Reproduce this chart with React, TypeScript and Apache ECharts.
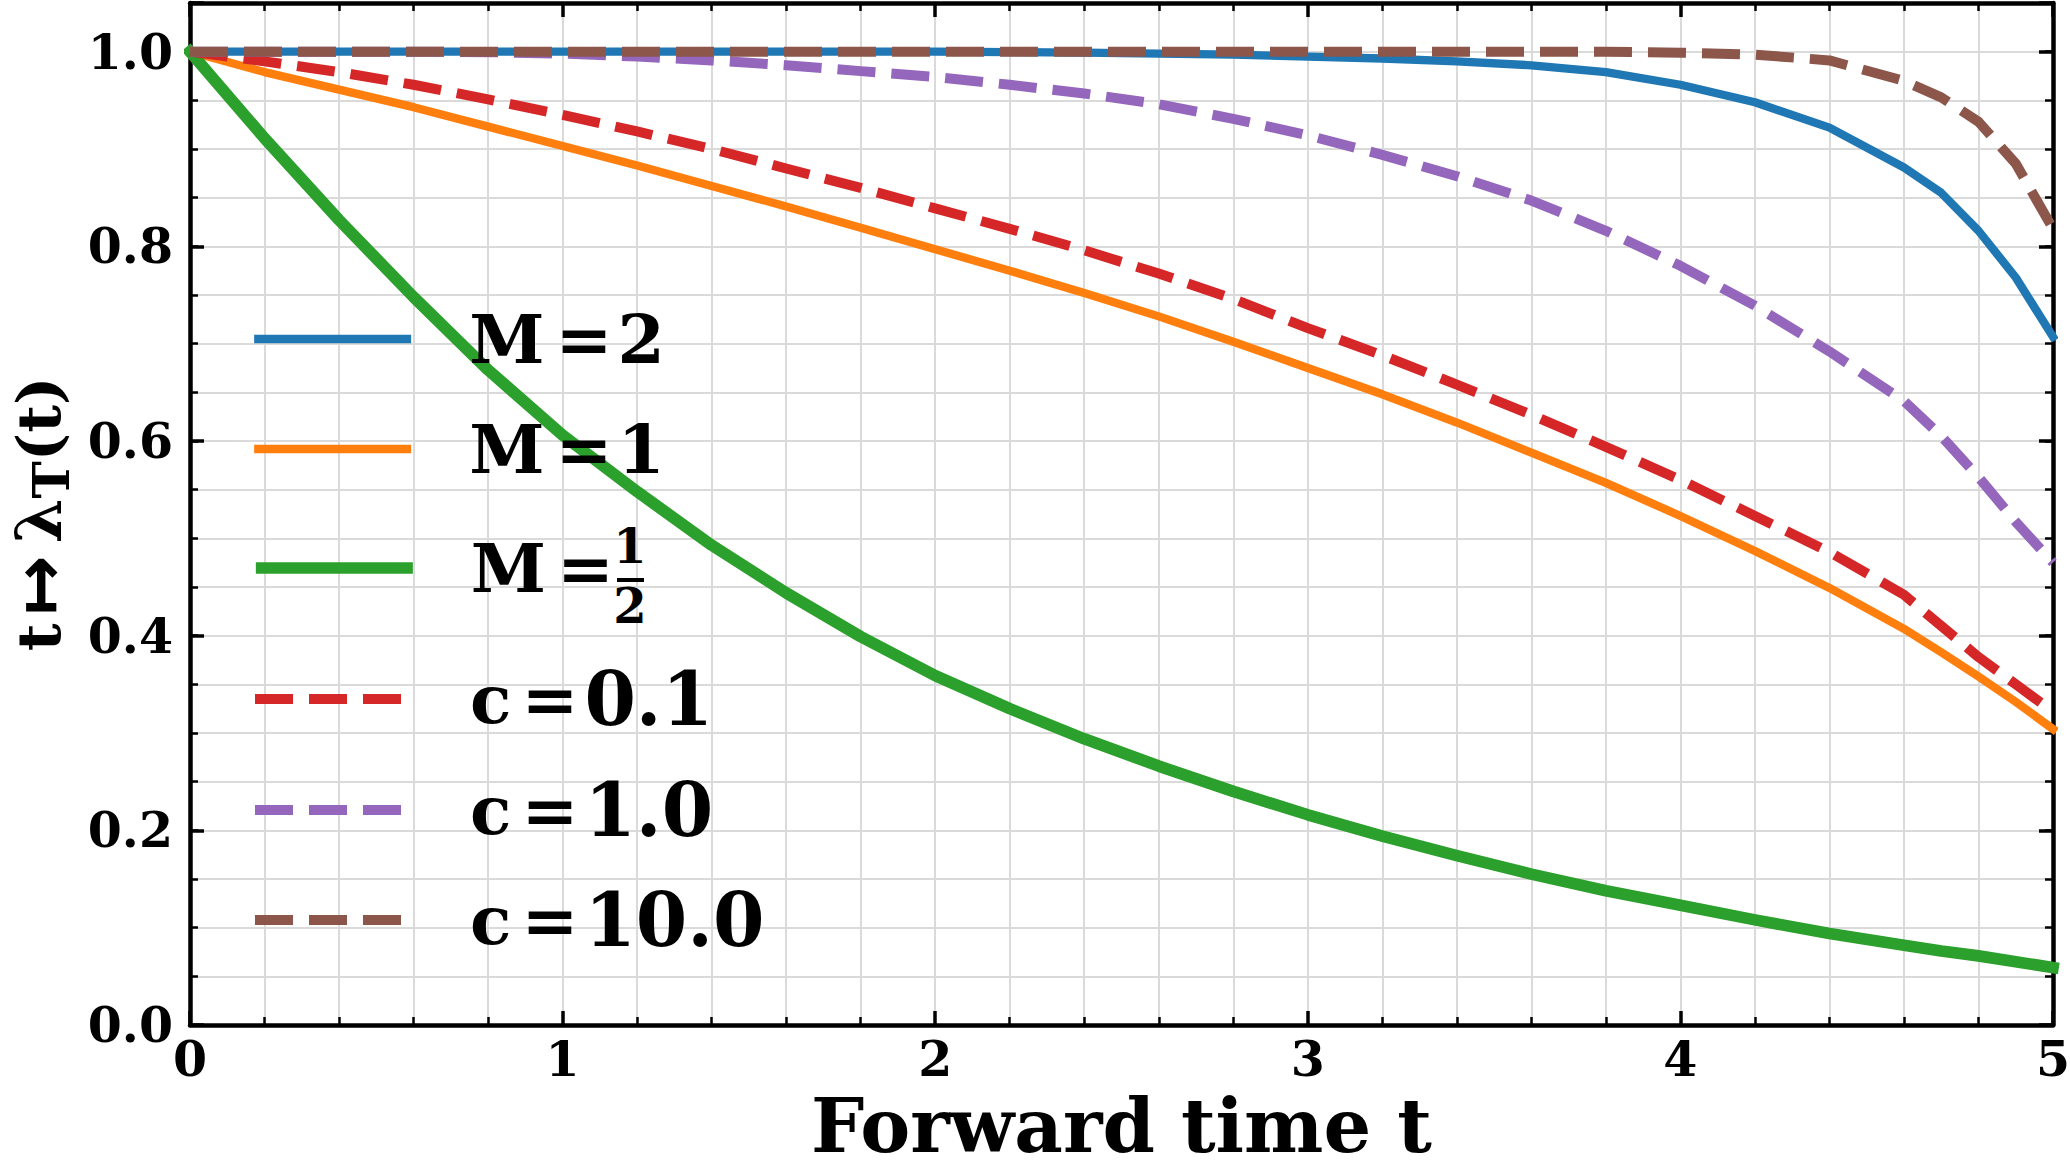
import React, { useEffect, useRef } from "react";
import * as echarts from "echarts";

// ---------- data ----------
const tValues = [0, 0.2, 0.4, 0.6, 0.8, 1.0, 1.2, 1.4, 1.6, 1.8, 2.0, 2.2, 2.4, 2.6, 2.8, 3.0, 3.2, 3.4, 3.6, 3.8, 4.0, 4.2, 4.4, 4.6, 4.7, 4.8, 4.9, 5.0];

const m2Values = [1.0, 1.0, 1.0, 1.0, 1.0, 1.0, 1.0, 1.0, 1.0, 1.0, 1.0, 0.9995, 0.999, 0.998, 0.997, 0.995, 0.993, 0.99, 0.986, 0.979, 0.966, 0.948, 0.922, 0.881, 0.855, 0.816, 0.768, 0.707];
const m1Values = [1.0, 0.979, 0.961, 0.943, 0.923, 0.903, 0.883, 0.862, 0.841, 0.819, 0.797, 0.775, 0.752, 0.728, 0.702, 0.675, 0.648, 0.619, 0.588, 0.557, 0.523, 0.487, 0.449, 0.407, 0.383, 0.358, 0.332, 0.304];
const mHalfValues = [1.0, 0.911, 0.827, 0.748, 0.673, 0.606, 0.548, 0.493, 0.444, 0.399, 0.359, 0.325, 0.294, 0.266, 0.24, 0.216, 0.194, 0.174, 0.155, 0.138, 0.123, 0.108, 0.094, 0.082, 0.076, 0.071, 0.065, 0.059];
const c01Values = [1.0, 0.99, 0.979, 0.966, 0.951, 0.935, 0.918, 0.9, 0.88, 0.86, 0.839, 0.818, 0.796, 0.772, 0.746, 0.716, 0.688, 0.658, 0.627, 0.594, 0.56, 0.523, 0.486, 0.442, 0.41, 0.378, 0.35, 0.322];
const c1Values = [1.0, 1.0, 1.0, 1.0, 0.9995, 0.998, 0.995, 0.991, 0.986, 0.98, 0.974, 0.966, 0.957, 0.946, 0.931, 0.914, 0.894, 0.872, 0.847, 0.816, 0.78, 0.739, 0.692, 0.641, 0.605, 0.563, 0.517, 0.475];
const c10Values = [1.0, 1.0, 1.0, 1.0, 1.0, 1.0, 1.0, 1.0, 1.0, 1.0, 1.0, 1.0, 1.0, 1.0, 1.0, 1.0, 1.0, 1.0, 1.0, 1.0, 0.999, 0.997, 0.991, 0.97, 0.953, 0.928, 0.885, 0.818];

const seriesNames = ["M = 2", "M = 1", "M = 1/2", "c = 0.1", "c = 1.0", "c = 10.0"];
const seriesValues = [m2Values, m1Values, mHalfValues, c01Values, c1Values, c10Values];
const seriesColors = ["#1f77b4", "#ff7f0e", "#2ca02c", "#d62728", "#9467bd", "#8c564b"];
const seriesWidths = [8.3, 8.3, 11.7, 10, 10, 10];
const seriesDashed = [false, false, false, true, true, true];

const xTickValues = [0, 1, 2, 3, 4, 5];
const yTickLabels = ["0.0", "0.2", "0.4", "0.6", "0.8", "1.0"];
const xTitle = "Forward time t";
const fractionNumerator = "1";
const fractionDenominator = "2";

// ---------- layout ----------
const W = 2070;
const H = 1163;
const FONT = "DejaVu Serif";
const GRID_COLOR = "#dadada";
const legendCenters = [345, 455, 574, 702, 813, 923];
const LEGEND_LINE_H = 80;
const DASH = [38, 16];

function buildOption() {
  const series = seriesNames.map((name, i) => ({
    name,
    type: "line",
    xAxisIndex: 0,
    yAxisIndex: 0,
    data: tValues.map((t, k) => [t, seriesValues[i][k]]),
    showSymbol: false,
    symbol: "none",
    clip: true,
    silent: true,
    emphasis: { disabled: true },
    itemStyle: { color: seriesColors[i] },
    lineStyle: {
      color: seriesColors[i],
      width: seriesWidths[i],
      type: seriesDashed[i] ? DASH : "solid",
      cap: seriesDashed[i] ? "butt" : "square",
      join: "round",
    },
    z: 2 + i * 0.01,
  }));

  const base = { fontFamily: FONT, fontWeight: "bold", lineHeight: LEGEND_LINE_H, color: "#000" };
  const richStyles = {
    m: { ...base, fontSize: 68, padding: [0, 0, 0, 53] },
    e: { ...base, fontSize: 68, padding: [0, 5, 0, 11] },
    f: { ...base, fontSize: 68, padding: [0, 0, 0, 11] },
    v: { ...base, fontSize: 68 },
    c: { ...base, fontSize: 68, padding: [0, 0, 0, 53] },
    k: { ...base, fontSize: 68, padding: [0, 6, 0, 10] },
    d: { ...base, fontSize: 74 },
  };

  const legendFormatter = (name: string) => {
    const [lhs, rhs] = name.split(" = ");
    if (lhs === "c") return `{c|c}{k|=}{d|${rhs}}`;
    if (rhs === "1/2") return `{m|M}{f|=}`;
    return `{m|M}{e|=}{v|${rhs}}`;
  };

  const legend = seriesNames.map((name, i) => ({
    show: true,
    data: [name],
    selectedMode: false,
    orient: "horizontal",
    left: 250,
    top: legendCenters[i] - LEGEND_LINE_H / 2,
    padding: 0,
    itemGap: 0,
    itemWidth: 157,
    itemHeight: 12,
    itemStyle: { opacity: 0, borderWidth: 0 },
    lineStyle: {
      width: seriesWidths[i],
      type: seriesDashed[i] ? DASH : "solid",
      cap: "butt",
    },
    textStyle: { rich: richStyles },
    formatter: legendFormatter,
  }));

  const spine = { show: true, onZero: false, lineStyle: { color: "#000", width: 4.5 } };
  const majorTick = { show: true, inside: true, length: 14, lineStyle: { color: "#000", width: 3.5 } };
  const minorTickY = { show: true, inside: true, length: 8, lineStyle: { color: "#000", width: 2.5 } };

  const yFormatter = (v: number) => {
    const k = Math.round(v / 0.2);
    if (Math.abs(v - k * 0.2) < 1e-6 && k >= 0 && k < yTickLabels.length) return yTickLabels[k];
    return "";
  };

  const xAxis = [
    {
      type: "value",
      position: "bottom",
      min: xTickValues[0],
      max: xTickValues[xTickValues.length - 1],
      interval: 1,
      axisLine: spine,
      axisTick: majorTick,
      minorTick: { show: true, splitNumber: 5, length: 8, lineStyle: { color: "#000", width: 2.5 } },
      splitLine: { show: true, lineStyle: { color: GRID_COLOR, width: 2 } },
      minorSplitLine: { show: true, lineStyle: { color: GRID_COLOR, width: 2 } },
      axisLabel: {
        show: true,
        margin: 9,
        fontFamily: FONT,
        fontWeight: "bold",
        fontSize: 49,
        color: "#000",
        formatter: (v: number) => String(v),
      },
      name: xTitle,
      nameLocation: "middle",
      nameGap: 76,
      nameTextStyle: { fontFamily: FONT, fontWeight: "bold", fontSize: 75, lineHeight: 50, color: "#000" },
    },
    {
      type: "value",
      position: "top",
      min: xTickValues[0],
      max: xTickValues[xTickValues.length - 1],
      interval: 1,
      axisLine: spine,
      axisTick: majorTick,
      minorTick: { show: true, splitNumber: 5, length: 8, lineStyle: { color: "#000", width: 2.5 } },
      splitLine: { show: false },
      axisLabel: { show: false },
    },
  ];

  const yBase = { type: "value", min: 0, max: 1.05 };
  const titleLH = 60;
  const yAxis = [
    {
      ...yBase,
      position: "left",
      interval: 0.05,
      axisLine: spine,
      axisTick: minorTickY,
      splitLine: { show: true, lineStyle: { color: GRID_COLOR, width: 2 } },
      axisLabel: { show: false },
    },
    {
      ...yBase,
      position: "left",
      interval: 0.2,
      axisLine: { show: false, onZero: false },
      axisTick: majorTick,
      splitLine: { show: false },
      axisLabel: {
        show: true,
        margin: 17,
        fontFamily: FONT,
        fontWeight: "bold",
        fontSize: 49,
        color: "#000",
        formatter: yFormatter,
      },
      name: "{a|t}{r|↦}{l|λ}{s|T}{a|(t)}",
      nameLocation: "middle",
      nameRotate: 90,
      nameGap: 119,
      nameTextStyle: {
        rich: {
          a: { fontFamily: FONT, fontWeight: "bold", fontSize: 60, lineHeight: titleLH, color: "#000" },
          r: { fontFamily: "DejaVu Sans", fontWeight: "bold", fontSize: 72, lineHeight: titleLH, color: "#000", padding: [0, 12, 0, 8] },
          l: { fontFamily: FONT, fontWeight: "bold", fontSize: 64, lineHeight: titleLH, color: "#000" },
          s: { fontFamily: FONT, fontWeight: "bold", fontSize: 50, lineHeight: titleLH, color: "#000", padding: [26, 0, 0, 0] },
        },
      },
    },
    {
      ...yBase,
      position: "right",
      interval: 0.05,
      axisLine: spine,
      axisTick: minorTickY,
      splitLine: { show: false },
      axisLabel: { show: false },
    },
    {
      ...yBase,
      position: "right",
      interval: 0.2,
      axisLine: { show: false, onZero: false },
      axisTick: majorTick,
      splitLine: { show: false },
      axisLabel: { show: false },
    },
  ];

  const fracFont = `bold 48px "${FONT}"`;
  const fracX = 630;
  const graphic = [
    {
      type: "text",
      z: 100,
      x: fracX,
      y: 546,
      style: { text: fractionNumerator, font: fracFont, fill: "#000", textAlign: "center", textVerticalAlign: "middle", align: "center", verticalAlign: "middle" },
    },
    {
      type: "rect",
      z: 100,
      shape: { x: fracX - 13, y: 578, width: 27, height: 4 },
      style: { fill: "#000" },
    },
    {
      type: "text",
      z: 100,
      x: fracX,
      y: 606,
      style: { text: fractionDenominator, font: fracFont, fill: "#000", textAlign: "center", textVerticalAlign: "middle", align: "center", verticalAlign: "middle" },
    },
  ];

  return {
    animation: false,
    backgroundColor: "#ffffff",
    textStyle: { fontFamily: FONT },
    grid: { left: 190, right: 17, top: 3, bottom: 138, containLabel: false, outerBoundsMode: "none" },
    xAxis,
    yAxis,
    legend,
    series,
    graphic,
  };
}

export default function App() {
  const ref = useRef<HTMLDivElement | null>(null);
  useEffect(() => {
    if (!ref.current) return;
    const chart = echarts.init(ref.current, null, { renderer: "svg" });
    chart.setOption(buildOption() as any);
    return () => {
      chart.dispose();
    };
  }, []);
  return (
    <div
      ref={ref}
      style={{ position: "absolute", left: 0, top: 0, width: W, height: H, background: "#fff" }}
    />
  );
}
